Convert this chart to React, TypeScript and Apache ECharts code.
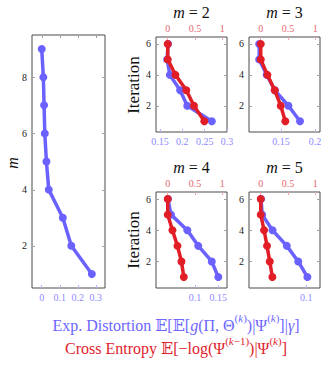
import React, { useEffect, useRef } from "react";
import * as echarts from "echarts";

// ---------- data ----------
const mValues = [1, 2, 3, 4, 5, 6, 7, 8, 9];
const overallDistortion = [0.278, 0.164, 0.117, 0.039, 0.026, 0.017, 0.013, 0.009, 0.0];

const iterations = [1, 2, 3, 4, 5, 6];
const distM2 = [0.266, 0.211, 0.195, 0.172, 0.166, 0.168];
const entM2 = [0.67, 0.48, 0.34, 0.14, 0.0, 0.0];
const distM3 = [0.178, 0.161, 0.141, 0.129, 0.118, 0.118];
const entM3 = [0.45, 0.366, 0.256, 0.122, 0.0, 0.0];
const distM4 = [0.15, 0.136, 0.107, 0.0835, 0.0485, 0.042];
const entM4 = [0.294, 0.251, 0.178, 0.086, 0.0, 0.0];
const distM5 = [0.102, 0.086, 0.066, 0.041, 0.023, 0.021];
const entM5 = [0.213, 0.165, 0.115, 0.061, 0.0, 0.0];

const panelTitles = ["2", "3", "4", "5"];

// tick labels
const leftXTicks = [0, 0.1, 0.2, 0.3];
const leftYTicks = [2, 4, 6, 8];
const iterTicks = [2, 4, 6];
const entropyTicks = [0, 0.5, 1];
const distTicksM2 = [0.15, 0.2, 0.25, 0.3];
const distTicksM3 = [0.15, 0.2];
const distTicksM4 = [0.1, 0.15];
const distTicksM5 = [0.1];

const BLUE = "#6b61ff";
const BLUE_LABEL = "#8f8aff";
const BLUE_TEXT = "#6d66ff";
const RED = "#e11d26";
const RED_LABEL = "#e66670";
const RED_TEXT = "#e0232c";
const TICK_GRAY = "#a0a0a0";
const SERIF = "'Liberation Serif', 'DejaVu Serif', serif";

export default function App() {
  const ref = useRef<HTMLDivElement>(null);

  useEffect(() => {
    if (!ref.current) return;
    const chart = echarts.init(ref.current, null, { renderer: "svg" });

    const grids = [
      { left: 32, top: 35, width: 73, height: 253 },
      { left: 156, top: 37, width: 71, height: 95 },
      { left: 249, top: 37, width: 71, height: 95 },
      { left: 156, top: 192, width: 71, height: 96 },
      { left: 249, top: 192, width: 71, height: 96 },
    ].map((g) => ({ ...g, show: true, borderColor: "#4a4a4a", borderWidth: 1, backgroundColor: "transparent" }));

    const panels = [
      { dist: distM2, ent: entM2, ticks: distTicksM2, min: 0.141, max: 0.3 },
      { dist: distM3, ent: entM3, ticks: distTicksM3, min: 0.103, max: 0.2074 },
      { dist: distM4, ent: entM4, ticks: distTicksM4, min: 0.0163, max: 0.1687 },
      { dist: distM5, ent: entM5, ticks: distTicksM5, min: 0.0, max: 0.124 },
    ];

    const xAxes: any[] = [];
    const yAxes: any[] = [];
    const series: any[] = [];

    const xAxis = (gridIndex: number, position: string, min: number, max: number, ticks: number[], labelColor: string, tickColor: string) => ({
      type: "value",
      gridIndex,
      position,
      min,
      max,
      axisLine: { show: false },
      splitLine: { show: false },
      axisTick: { show: true, inside: true, length: 3, customValues: ticks, lineStyle: { color: tickColor, width: 1 } },
      axisLabel: { show: true, customValues: ticks, color: labelColor, fontSize: 10, fontFamily: SERIF, margin: 4 },
    });
    const yAxis = (gridIndex: number, min: number, max: number, ticks: number[]) => ({
      type: "value",
      gridIndex,
      position: "left",
      min,
      max,
      axisLine: { show: false },
      splitLine: { show: false },
      axisTick: { show: false },
      axisLabel: { show: true, customValues: ticks, color: "#222", fontSize: 10, fontFamily: SERIF, margin: 5 },
    });

    // y tick marks on both sides, drawn through the axis scale
    const yTickSeries = (xi: number, yi: number, xRef: number, ticks: number[]) => ({
      type: "custom",
      xAxisIndex: xi,
      yAxisIndex: yi,
      silent: true,
      z: 1,
      data: ticks.map((t) => [xRef, t]),
      renderItem: (params: any, api: any) => {
        const cs = params.coordSys;
        const y = Math.round(api.coord([api.value(0), api.value(1)])[1]) + 0.5;
        return {
          type: "group",
          children: [
            { type: "line", shape: { x1: cs.x, y1: y, x2: cs.x + 3, y2: y }, style: { stroke: TICK_GRAY, lineWidth: 1 } },
            { type: "line", shape: { x1: cs.x + cs.width - 3, y1: y, x2: cs.x + cs.width, y2: y }, style: { stroke: TICK_GRAY, lineWidth: 1 } },
          ],
        };
      },
    });
    // mirrored x tick marks on top (left panel)
    const xTopTickSeries = (xi: number, yi: number, yRef: number, ticks: number[]) => ({
      type: "custom",
      xAxisIndex: xi,
      yAxisIndex: yi,
      silent: true,
      z: 1,
      data: ticks.map((t) => [t, yRef]),
      renderItem: (params: any, api: any) => {
        const cs = params.coordSys;
        const x = Math.round(api.coord([api.value(0), api.value(1)])[0]) + 0.5;
        return { type: "line", shape: { x1: x, y1: cs.y, x2: x, y2: cs.y + 3 }, style: { stroke: TICK_GRAY, lineWidth: 1 } };
      },
    });

    // left panel
    xAxes.push(xAxis(0, "bottom", -0.054, 0.351, leftXTicks, BLUE_LABEL, "#b5b2ff"));
    yAxes.push(yAxis(0, 0.5, 9.5, leftYTicks));
    series.push(yTickSeries(0, 0, 0, leftYTicks));
    series.push(xTopTickSeries(0, 0, 5, leftXTicks));
    series.push({
      type: "line",
      xAxisIndex: 0,
      yAxisIndex: 0,
      data: mValues.map((m, i) => [overallDistortion[i], m]),
      symbol: "circle",
      symbolSize: 8,
      lineStyle: { color: BLUE, width: 3.5 },
      itemStyle: { color: BLUE },
      z: 2,
    });

    panels.forEach((p, k) => {
      const g = k + 1;
      const xb = xAxes.length;
      xAxes.push(xAxis(g, "bottom", p.min, p.max, p.ticks, BLUE_LABEL, "#b5b2ff"));
      const xt = xAxes.length;
      xAxes.push(xAxis(g, "top", -0.215, 1.085, entropyTicks, RED_LABEL, "#f2a3a8"));
      const yl = yAxes.length;
      yAxes.push(yAxis(g, 0.3, 6.45, iterTicks));
      series.push(yTickSeries(xt, yl, 0, iterTicks));
      series.push({
        type: "line",
        xAxisIndex: xb,
        yAxisIndex: yl,
        data: iterations.map((it, i) => [p.dist[i], it]),
        symbol: "circle",
        symbolSize: 8,
        lineStyle: { color: BLUE, width: 3.5 },
        itemStyle: { color: BLUE },
        z: 2,
      });
      series.push({
        type: "line",
        xAxisIndex: xt,
        yAxisIndex: yl,
        data: iterations.map((it, i) => [p.ent[i], it]),
        symbol: "circle",
        symbolSize: 8,
        lineStyle: { color: RED, width: 3.5 },
        itemStyle: { color: RED },
        z: 3,
      });
    });

    const titleRich = {
      i: { fontFamily: SERIF, fontStyle: "italic", fontSize: 16, fill: "#111" },
      n: { fontFamily: SERIF, fontSize: 16, fill: "#111" },
    };
    const titlePos = [
      [191.5, 12],
      [284.5, 12],
      [191.5, 167],
      [284.5, 167],
    ];

    const graphic: any[] = [];
    panelTitles.forEach((t, k) => {
      graphic.push({
        type: "text",
        x: titlePos[k][0],
        y: titlePos[k][1],
        style: { text: `{i|m}{n| = ${t}}`, rich: titleRich, align: "center", verticalAlign: "middle" },
      });
    });
    [85, 240].forEach((yc) => {
      graphic.push({
        type: "text",
        x: 133,
        y: yc,
        rotation: Math.PI / 2,
        style: { text: "Iteration", font: `17px ${SERIF}`, fill: "#111", align: "center", verticalAlign: "middle" },
      });
    });
    graphic.push({
      type: "text",
      x: 12,
      y: 163,
      rotation: Math.PI / 2,
      style: { text: "m", font: `italic 16px ${SERIF}`, fill: "#111", align: "center", verticalAlign: "middle" },
    });

    const mkRich = (color: string) => ({
      t: { fontFamily: SERIF, fontSize: 16, fill: color, lineHeight: 21, verticalAlign: "bottom" },
      i: { fontFamily: SERIF, fontStyle: "italic", fontSize: 16, fill: color, lineHeight: 21, verticalAlign: "bottom" },
      s: { fontFamily: SERIF, fontSize: 11, fill: color, lineHeight: 13, verticalAlign: "top" },
      si: { fontFamily: SERIF, fontStyle: "italic", fontSize: 11, fill: color, lineHeight: 13, verticalAlign: "top" },
    });
    graphic.push({
      type: "text",
      x: 176,
      y: 323,
      style: {
        text: "{t|Exp. Distortion 𝔼[𝔼[}{i|g}{t|(Π, Θ}{s|(}{si|k}{s|)}{t|)|Ψ}{s|(}{si|k}{s|)}{t|]|}{i|γ}{t|]}",
        rich: mkRich(BLUE_TEXT),
        align: "center",
        verticalAlign: "middle",
      },
    });
    graphic.push({
      type: "text",
      x: 176,
      y: 346,
      style: {
        text: "{t|Cross Entropy 𝔼[−log(Ψ}{s|(}{si|k}{s|−1)}{t|)|Ψ}{s|(}{si|k}{s|)}{t|]}",
        rich: mkRich(RED_TEXT),
        align: "center",
        verticalAlign: "middle",
      },
    });

    chart.setOption({
      animation: false,
      backgroundColor: "#ffffff",
      grid: grids,
      xAxis: xAxes,
      yAxis: yAxes,
      series,
      graphic,
    });

    return () => chart.dispose();
  }, []);

  return (
    <div
      ref={ref}
      style={{ position: "absolute", left: 0, top: 0, width: 332, height: 373, background: "#fff" }}
    />
  );
}
